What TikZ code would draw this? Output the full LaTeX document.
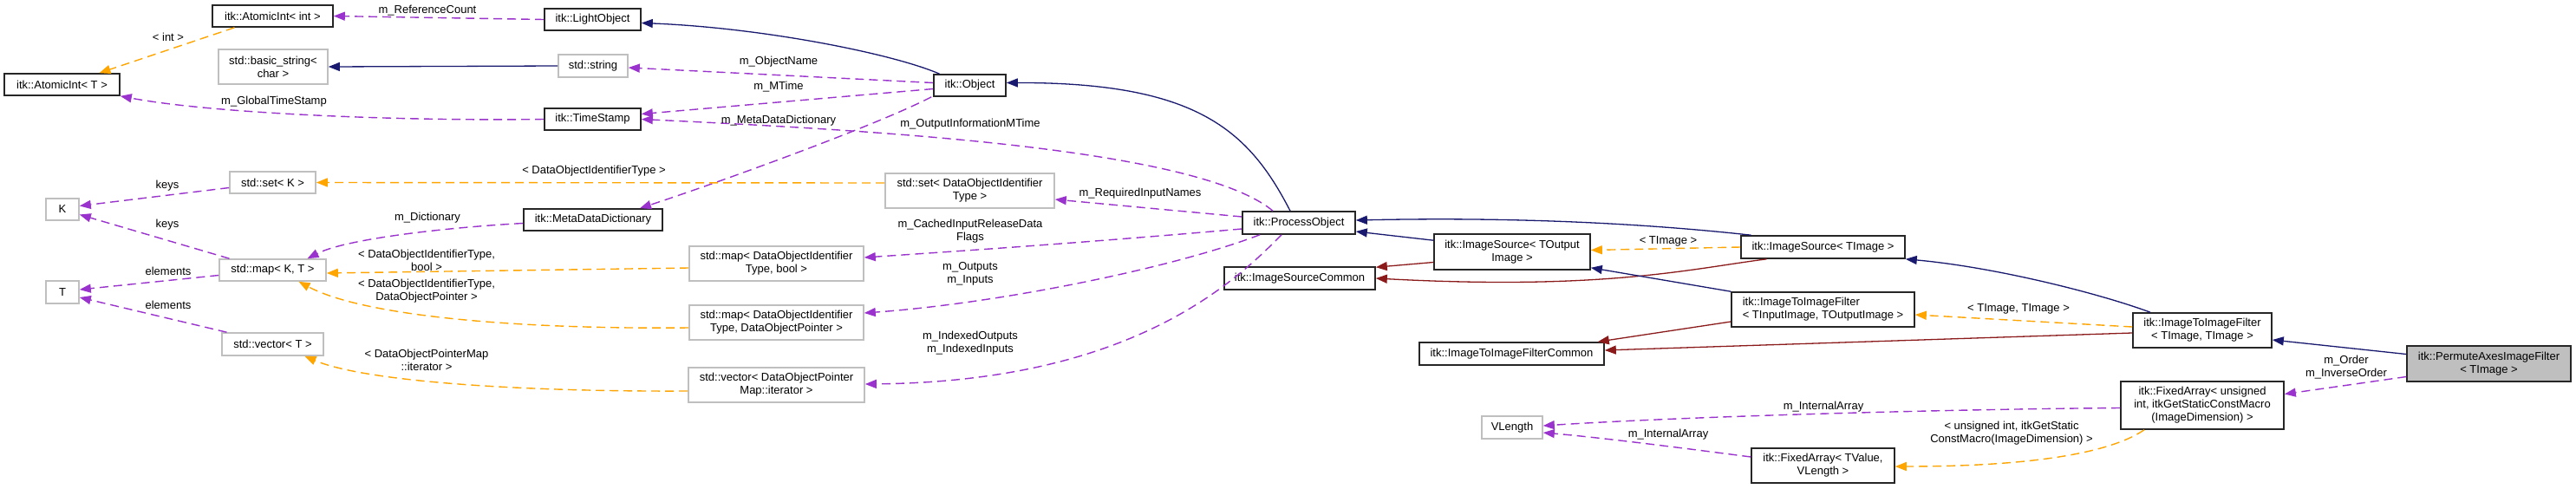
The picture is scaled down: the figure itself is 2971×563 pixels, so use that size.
\documentclass[tikz,border=0pt]{standalone}
\usepackage{fontspec}
\setmainfont{Liberation Sans}
\usetikzlibrary{arrows.meta,calc}
\definecolor{inhc}{HTML}{191970}
\definecolor{protc}{HTML}{8B1A1A}
\definecolor{usec}{HTML}{9A32CD}
\definecolor{tplc}{HTML}{FFA500}
\definecolor{grayb}{HTML}{BFBFBF}
\newcommand{\fsz}{\fontsize{13}{15}\selectfont}
\tikzset{
  cls/.style={draw=black!85, line width=1.6pt, fill=white, inner sep=0pt, align=center, font=\fsz},
  ext/.style={cls, draw=grayb},
  lbl/.style={inner sep=0pt, align=center, font=\fsz},
  tipx/.style={-{Triangle[length=13pt,width=10pt]}},
  inhe/.style={draw=inhc, line width=1.3pt, tipx},
  prot/.style={draw=protc, line width=1.3pt, tipx},
  usee/.style={draw=usec, line width=1.4pt, dash pattern=on 10pt off 6pt, tipx},
  tpl/.style={draw=tplc, line width=1.4pt, dash pattern=on 10pt off 6pt, tipx},
}
\begin{document}
\begin{tikzpicture}[x=1pt,y=-1pt]
\useasboundingbox (0,0) rectangle (2971,563);
\fill[white] (0,0) rectangle (2971,563);
% nodes
\node[cls, minimum width=139pt, minimum height=25pt] (aint) at (314.5,18.5) {itk::AtomicInt< int >};
\node[cls, minimum width=111pt, minimum height=25pt] (light) at (683.5,22.5) {itk::LightObject};
\node[ext, minimum width=126pt, minimum height=40pt] (bstr) at (315,77) {std::basic\_string<\\char >};
\node[ext, minimum width=80pt, minimum height=26pt] (str) at (684,76) {std::string};
\node[cls, minimum width=133pt, minimum height=25pt] (aintT) at (71.5,97.5) {itk::AtomicInt< T >};
\node[cls, minimum width=111pt, minimum height=25pt] (ts) at (683.5,137.5) {itk::TimeStamp};
\node[ext, minimum width=99pt, minimum height=25pt] (setK) at (314.5,210.5) {std::set< K >};
\node[ext, minimum width=38pt, minimum height=25pt] (K) at (72,241.5) {K};
\node[cls, minimum width=160pt, minimum height=25pt] (mdd) at (684,253.5) {itk::MetaDataDictionary};
\node[ext, minimum width=123pt, minimum height=25pt] (mapKT) at (314.5,311.5) {std::map< K, T >};
\node[ext, minimum width=38pt, minimum height=26pt] (T) at (72,337) {T};
\node[ext, minimum width=117pt, minimum height=26pt] (vecT) at (314.5,397) {std::vector< T >};
\node[cls, minimum width=83pt, minimum height=25pt] (obj) at (1118.5,98.5) {itk::Object};
\node[ext, minimum width=195pt, minimum height=40pt] (setD) at (1118.5,220) {std::set< DataObjectIdentifier\\Type >};
\node[cls, minimum width=130pt, minimum height=26pt] (po) at (1498,257) {itk::ProcessObject};
\node[ext, minimum width=201pt, minimum height=40pt] (mapB) at (895.5,304) {std::map< DataObjectIdentifier\\Type, bool >};
\node[ext, minimum width=201pt, minimum height=40pt] (mapP) at (895.5,372) {std::map< DataObjectIdentifier\\Type, DataObjectPointer >};
\node[ext, minimum width=203pt, minimum height=40pt] (vecP) at (895.5,444) {std::vector< DataObjectPointer\\Map::iterator >};
\node[cls, minimum width=174pt, minimum height=26pt] (isc) at (1499,321) {itk::ImageSourceCommon};
\node[cls, minimum width=180pt, minimum height=41pt] (isT) at (1744,290.5) {itk::ImageSource< TOutput\\Image >};
\node[cls, minimum width=189pt, minimum height=26pt] (isI) at (2102.5,285) {itk::ImageSource< TImage >};
\node[cls, minimum width=211pt, minimum height=40pt, align=left] (iiT) at (2102.5,357) {itk::ImageToImageFilter\\< TInputImage, TOutputImage >};
\node[cls, minimum width=213pt, minimum height=26pt] (iic) at (1743.5,408) {itk::ImageToImageFilterCommon};
\node[cls, minimum width=160pt, minimum height=40pt] (iiI) at (2540,381) {itk::ImageToImageFilter\\< TImage, TImage >};
\node[cls, fill=grayb, minimum width=189pt, minimum height=41pt] (pa) at (2870.5,419.5) {itk::PermuteAxesImageFilter\\< TImage >};
\node[cls, minimum width=188pt, minimum height=55pt] (faU) at (2540,467.5) {itk::FixedArray< unsigned\\ int, itkGetStaticConstMacro\\(ImageDimension) >};
\node[ext, minimum width=70pt, minimum height=26pt] (vl) at (1744,493) {VLength};
\node[cls, minimum width=165pt, minimum height=40pt] (faV) at (2102.5,537) {itk::FixedArray< TValue,\\VLength >};
% edges
\draw[usee] (light.west) -- (aint.east);
\draw[tpl] ([xshift=-44pt]aint.south) -- ([xshift=43pt]aintT.north);
\draw[inhe] (str.west) -- (bstr.east);
\draw[inhe] ([xshift=-35pt]obj.north) .. controls (1030,62) and (880,32) .. ([yshift=-4pt]light.east);
\draw[usee] ([yshift=3pt]obj.west) -- ([yshift=-2pt]str.east);
\draw[usee] ([yshift=-4pt]obj.west) -- ([yshift=6pt]ts.east);
\draw[usee] ([xshift=-2pt]obj.south west) .. controls (1010,145) and (830,210) .. ([xshift=54pt]mdd.north);
\draw[usee] (ts.west) .. controls (450,140) and (240,130) .. (aintT.south east);
\draw[inhe] ([xshift=-10pt]po.north) .. controls (1440,150) and (1380,95) .. ([yshift=3pt]obj.east);
\draw[usee] ([xshift=-30pt]po.north) .. controls (1380,170) and (1000,150) .. (ts.east);
\draw[usee] ([yshift=7pt]po.west) -- ([yshift=-10pt]setD.east);
\draw[usee] ([yshift=-7pt]po.west) .. controls (1250,280) and (1100,290) .. ([yshift=7pt]mapB.east);
\draw[usee] ([xshift=-45pt]po.south) .. controls (1350,310) and (1150,350) .. ([yshift=11pt]mapP.east);
\draw[usee] ([xshift=-20pt]po.south) .. controls (1420,330) and (1300,440) .. ([yshift=1pt]vecP.east);
\draw[tpl] ([yshift=9pt]setD.west) -- (setK.east);
\draw[usee] ([yshift=-6pt]setK.west) -- ([yshift=4pt]K.east);
\draw[usee] ([xshift=-50pt]mapKT.north) -- ([yshift=-6pt]K.east);
\draw[usee] ([yshift=-4pt]mdd.west) .. controls (520,262) and (400,275) .. ([xshift=40pt]mapKT.north);
\draw[tpl] ([yshift=-5pt]mapB.west) -- ([yshift=-3.5pt]mapKT.east);
\draw[tpl] ([yshift=-6pt]mapP.west) .. controls (600,380) and (420,365) .. ([xshift=30pt]mapKT.south);
\draw[usee] ([yshift=-6pt]mapKT.west) -- ([yshift=3pt]T.east);
\draw[usee] ([xshift=-53pt]vecT.north) -- ([yshift=-6pt]T.east);
\draw[tpl] ([yshift=-7pt]vecP.west) .. controls (600,452) and (420,440) .. ([xshift=37pt]vecT.south);
\draw[inhe] ([yshift=-8pt]isT.north west) -- ([yshift=-10pt]po.east);
\draw[inhe] ([xshift=-83pt]isI.north) .. controls (1900,258) and (1750,250) .. ([yshift=3pt]po.east);
\draw[tpl] (isI.west) -- ([yshift=2pt]isT.east);
\draw[prot] ([yshift=-12pt]isT.west) -- ([yshift=-1pt]isc.north east);
\draw[prot] ([xshift=-65pt]isI.south) .. controls (1950,310) and (1850,335) .. (isc.east);
\draw[inhe] (iiT.north west) -- ([yshift=3pt]isT.south east);
\draw[prot] ([yshift=-14pt]iiT.west) -- ([xshift=-8pt]iic.north east);
\draw[inhe] ([xshift=-60pt]iiI.north) .. controls (2420,338) and (2300,308) .. (isI.south east);
\draw[tpl] ([yshift=4pt]iiI.west) -- ([yshift=-6pt]iiT.east);
\draw[prot] ([yshift=-3pt]iiI.west) -- ([yshift=4pt]iic.east);
\draw[inhe] ([yshift=11pt]pa.west) -- ([yshift=-11pt]iiI.east);
\draw[usee] ([yshift=-15pt]pa.west) -- ([yshift=13pt]faU.east);
\draw[usee] ([yshift=-3pt]faU.west) .. controls (2250,472) and (1950,480) .. ([yshift=2pt]vl.east);
\draw[usee] ([yshift=10pt]faV.west) .. controls (1950,518) and (1850,505) .. ([yshift=-6pt]vl.east);
\draw[tpl] ([xshift=-67pt]faU.south) .. controls (2430,525) and (2330,538) .. ([yshift=-1pt]faV.east);
% labels
\node[lbl] (l1) at (493,12) {m\_ReferenceCount};
\node[lbl] (l2) at (194,43) {< int >};
\node[lbl] (l5) at (898,71) {m\_ObjectName};
\node[lbl] (l6) at (898,100) {m\_MTime};
\node[lbl] (l7) at (898,139) {m\_MetaDataDictionary};
\node[lbl] (l8) at (316,117) {m\_GlobalTimeStamp};
\node[lbl] (l10) at (1119,143) {m\_OutputInformationMTime};
\node[lbl] (l11) at (1315,223) {m\_RequiredInputNames};
\node[lbl] (l12) at (1119,266.5) {m\_CachedInputReleaseData\\Flags};
\node[lbl] (l13) at (1119,315.5) {m\_Outputs\\m\_Inputs};
\node[lbl] (l14) at (1119,395.5) {m\_IndexedOutputs\\m\_IndexedInputs};
\node[lbl] (l15) at (685,197) {< DataObjectIdentifierType >};
\node[lbl] (l16) at (193,214) {keys};
\node[lbl] (l17) at (193,259) {keys};
\node[lbl] (l18) at (493,251) {m\_Dictionary};
\node[lbl] (l19) at (492,300.5) {< DataObjectIdentifierType,\\bool >};
\node[lbl] (l20) at (492,335.5) {< DataObjectIdentifierType,\\DataObjectPointer >};
\node[lbl] (l21) at (194,313) {elements};
\node[lbl] (l22) at (194,352) {elements};
\node[lbl] (l23) at (492,415.5) {< DataObjectPointerMap\\::iterator >};
\node[lbl] (l26) at (1924,278) {< TImage >};
\node[lbl] (l32) at (2328,356) {< TImage, TImage >};
\node[lbl] (l35) at (2706,423.5) {m\_Order\\m\_InverseOrder};
\node[lbl] (l36) at (2103,469) {m\_InternalArray};
\node[lbl] (l37) at (1924,501) {m\_InternalArray};
\node[lbl] (l38) at (2320,499.5) {< unsigned int, itkGetStatic\\ConstMacro(ImageDimension) >};
\end{tikzpicture}
\end{document}
